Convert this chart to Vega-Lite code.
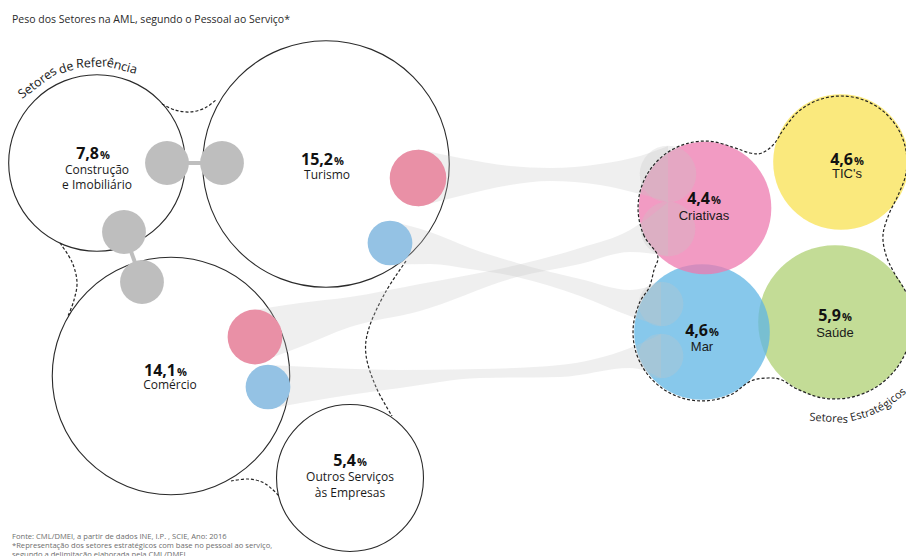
{
  "$schema": "https://vega.github.io/schema/vega-lite/v6.json",
  "width": 906,
  "height": 556,
  "autosize": {"type": "none"},
  "padding": 0,
  "background": "white",
  "config": {"view": {"stroke": null}},
  "datasets": {
    "sectors": [
      {"name": "Construção e Imobiliário", "group": "ref", "pct": 7.8, "x": 97, "y": 163},
      {"name": "Turismo", "group": "ref", "pct": 15.2, "x": 326, "y": 164},
      {"name": "Comércio", "group": "ref", "pct": 14.1, "x": 171, "y": 376},
      {"name": "Outros Serviços às Empresas", "group": "ref", "pct": 5.4, "x": 350, "y": 478},
      {"name": "Saúde", "group": "str", "pct": 5.9, "x": 835, "y": 322},
      {"name": "TIC's", "group": "str", "pct": 4.6, "x": 841, "y": 162},
      {"name": "Mar", "group": "str", "pct": 4.6, "x": 702, "y": 332},
      {"name": "Criativas", "group": "str", "pct": 4.4, "x": 705, "y": 208}
    ],
    "flows": [
      {"from": "Turismo", "to": "Criativas", "pct": 0.8, "x": 418, "y": 178, "tx": 668, "ty": 174},
      {"from": "Turismo", "to": "Mar", "pct": 0.5, "x": 390, "y": 243, "tx": 661, "ty": 304},
      {"from": "Comércio", "to": "Criativas", "pct": 0.75, "x": 255, "y": 337, "tx": 668, "ty": 229},
      {"from": "Comércio", "to": "Mar", "pct": 0.5, "x": 268, "y": 387, "tx": 661, "ty": 356}
    ],
    "gray": [
      {"pair": "a", "x": 167, "y": 163, "pct": 0.48},
      {"pair": "a", "x": 222, "y": 163, "pct": 0.48},
      {"pair": "b", "x": 124, "y": 232, "pct": 0.48},
      {"pair": "b", "x": 142, "y": 282, "pct": 0.48}
    ],
    "bands": [
      {"flow": "TC", "x": 418, "yTop": 149, "yBot": 207},
      {"flow": "TC", "x": 460, "yTop": 158, "yBot": 196},
      {"flow": "TC", "x": 510, "yTop": 166, "yBot": 185},
      {"flow": "TC", "x": 550, "yTop": 168, "yBot": 181},
      {"flow": "TC", "x": 600, "yTop": 164, "yBot": 185},
      {"flow": "TC", "x": 640, "yTop": 156, "yBot": 194},
      {"flow": "TC", "x": 668, "yTop": 146, "yBot": 202},
      {"flow": "TM", "x": 390, "yTop": 221, "yBot": 265},
      {"flow": "TM", "x": 430, "yTop": 232, "yBot": 264},
      {"flow": "TM", "x": 470, "yTop": 248, "yBot": 269},
      {"flow": "TM", "x": 517, "yTop": 263, "yBot": 277},
      {"flow": "TM", "x": 580, "yTop": 279, "yBot": 296},
      {"flow": "TM", "x": 630, "yTop": 290, "yBot": 316},
      {"flow": "TM", "x": 661, "yTop": 282, "yBot": 326},
      {"flow": "CC", "x": 255, "yTop": 310, "yBot": 364},
      {"flow": "CC", "x": 300, "yTop": 303, "yBot": 347},
      {"flow": "CC", "x": 350, "yTop": 297, "yBot": 327},
      {"flow": "CC", "x": 420, "yTop": 284, "yBot": 311},
      {"flow": "CC", "x": 517, "yTop": 265, "yBot": 277},
      {"flow": "CC", "x": 580, "yTop": 248, "yBot": 264},
      {"flow": "CC", "x": 630, "yTop": 230, "yBot": 252},
      {"flow": "CC", "x": 668, "yTop": 202, "yBot": 256},
      {"flow": "CM", "x": 268, "yTop": 365, "yBot": 409},
      {"flow": "CM", "x": 330, "yTop": 368, "yBot": 398},
      {"flow": "CM", "x": 400, "yTop": 370, "yBot": 388},
      {"flow": "CM", "x": 480, "yTop": 369, "yBot": 378},
      {"flow": "CM", "x": 560, "yTop": 365, "yBot": 377},
      {"flow": "CM", "x": 630, "yTop": 348, "yBot": 368},
      {"flow": "CM", "x": 661, "yTop": 334, "yBot": 378}
    ],
    "refHull": [
      {"seg": 1, "i": 1, "x": 162, "y": 104},
      {"seg": 1, "i": 2, "x": 175, "y": 110},
      {"seg": 1, "i": 3, "x": 190, "y": 112},
      {"seg": 1, "i": 4, "x": 205, "y": 108},
      {"seg": 1, "i": 5, "x": 217, "y": 99},
      {"seg": 2, "i": 1, "x": 60, "y": 243},
      {"seg": 2, "i": 2, "x": 72, "y": 262},
      {"seg": 2, "i": 3, "x": 77, "y": 282},
      {"seg": 2, "i": 4, "x": 74, "y": 300},
      {"seg": 2, "i": 5, "x": 68, "y": 316},
      {"seg": 3, "i": 1, "x": 406, "y": 261},
      {"seg": 3, "i": 2, "x": 385, "y": 293},
      {"seg": 3, "i": 3, "x": 369, "y": 328},
      {"seg": 3, "i": 4, "x": 366, "y": 355},
      {"seg": 3, "i": 5, "x": 376, "y": 387},
      {"seg": 3, "i": 6, "x": 392, "y": 416},
      {"seg": 4, "i": 1, "x": 231, "y": 481},
      {"seg": 4, "i": 2, "x": 248, "y": 479},
      {"seg": 4, "i": 3, "x": 262, "y": 482},
      {"seg": 4, "i": 4, "x": 272, "y": 489},
      {"seg": 4, "i": 5, "x": 279, "y": 496}
    ],
    "strHull": [
      {"i": 1, "x": 657.6, "y": 255.4},
      {"i": 2, "x": 644.3, "y": 236.3},
      {"i": 3, "x": 638.3, "y": 213.8},
      {"i": 4, "x": 640.3, "y": 190.7},
      {"i": 5, "x": 650.1, "y": 169.6},
      {"i": 6, "x": 666.6, "y": 153.1},
      {"i": 7, "x": 687.7, "y": 143.3},
      {"i": 8, "x": 710.8, "y": 141.3},
      {"i": 9, "x": 733.3, "y": 147.3},
      {"i": 10, "x": 750, "y": 153},
      {"i": 11, "x": 762, "y": 153},
      {"i": 12, "x": 774, "y": 144},
      {"i": 13, "x": 783.8, "y": 129},
      {"i": 14, "x": 798.6, "y": 111.4},
      {"i": 15, "x": 818.4, "y": 100},
      {"i": 16, "x": 841, "y": 96},
      {"i": 17, "x": 863.6, "y": 100},
      {"i": 18, "x": 883.4, "y": 111.4},
      {"i": 19, "x": 898.2, "y": 129},
      {"i": 20, "x": 906, "y": 150.5},
      {"i": 21, "x": 906, "y": 173.5},
      {"i": 22, "x": 898.2, "y": 195},
      {"i": 23, "x": 889, "y": 214},
      {"i": 24, "x": 883, "y": 235},
      {"i": 25, "x": 886, "y": 255},
      {"i": 26, "x": 894, "y": 272.5},
      {"i": 27, "x": 907.4, "y": 295.7},
      {"i": 28, "x": 912, "y": 322},
      {"i": 29, "x": 907.4, "y": 348.3},
      {"i": 30, "x": 894, "y": 371.5},
      {"i": 31, "x": 873.5, "y": 388.7},
      {"i": 32, "x": 848.4, "y": 397.8},
      {"i": 33, "x": 821.6, "y": 397.8},
      {"i": 34, "x": 796.5, "y": 388.7},
      {"i": 35, "x": 782, "y": 380},
      {"i": 36, "x": 768, "y": 378},
      {"i": 37, "x": 750.8, "y": 381},
      {"i": 38, "x": 731.2, "y": 394.5},
      {"i": 39, "x": 708, "y": 400.7},
      {"i": 40, "x": 684.1, "y": 398.6},
      {"i": 41, "x": 662.4, "y": 388.5},
      {"i": 42, "x": 645.5, "y": 371.6},
      {"i": 43, "x": 635.3, "y": 349.9},
      {"i": 44, "x": 633.3, "y": 326},
      {"i": 45, "x": 639.5, "y": 302.8},
      {"i": 46, "x": 649.1, "y": 287.6},
      {"i": 47, "x": 654, "y": 270}
    ],
    "labels": [
      {"kind": "num", "side": "ref", "text": "7,8", "x": 93, "y": 153},
      {"kind": "num", "side": "ref", "text": "15,2", "x": 327, "y": 159},
      {"kind": "num", "side": "ref", "text": "14,1", "x": 170, "y": 370},
      {"kind": "num", "side": "ref", "text": "5,4", "x": 350, "y": 460},
      {"kind": "num", "side": "str", "text": "4,4", "x": 704, "y": 198},
      {"kind": "num", "side": "str", "text": "4,6", "x": 847, "y": 159},
      {"kind": "num", "side": "str", "text": "4,6", "x": 702, "y": 330},
      {"kind": "num", "side": "str", "text": "5,9", "x": 835, "y": 315},
      {"kind": "name", "side": "ref", "text": "Construção", "x": 97, "y": 170},
      {"kind": "name", "side": "ref", "text": "e Imobiliário", "x": 97, "y": 185},
      {"kind": "name", "side": "ref", "text": "Turismo", "x": 327, "y": 175},
      {"kind": "name", "side": "ref", "text": "Comércio", "x": 170, "y": 385},
      {"kind": "name", "side": "ref", "text": "Outros Serviços", "x": 350, "y": 477},
      {"kind": "name", "side": "ref", "text": "às Empresas", "x": 350, "y": 493},
      {"kind": "name", "side": "str", "text": "Criativas", "x": 704, "y": 216},
      {"kind": "name", "side": "str", "text": "TIC's", "x": 847, "y": 174},
      {"kind": "name", "side": "str", "text": "Mar", "x": 702, "y": 347},
      {"kind": "name", "side": "str", "text": "Saúde", "x": 835, "y": 333}
    ],
    "arcs": [
      {"group": "ref", "text": "Setores", "x": 37.4, "y": 82.7, "angle": -36.5},
      {"group": "ref", "text": "de", "x": 66.1, "y": 67.9, "angle": -18},
      {"group": "ref", "text": "Refer", "x": 91.6, "y": 63.1, "angle": -3.1},
      {"group": "ref", "text": "ência", "x": 122, "y": 66.2, "angle": 14.5},
      {"group": "str", "text": "Setores", "x": 828.7, "y": 418.8, "angle": 3.7},
      {"group": "str", "text": "Estr", "x": 860.1, "y": 415.7, "angle": -15},
      {"group": "str", "text": "até", "x": 876.6, "y": 409.6, "angle": -25.4},
      {"group": "str", "text": "gicos", "x": 894.7, "y": 398.4, "angle": -38}
    ],
    "notes": [
      {"kind": "title", "text": "Peso dos Setores na AML, segundo o Pessoal ao Serviço*", "x": 12, "y": 20},
      {"kind": "foot", "text": "Fonte: CML/DMEI, a partir de dados INE, I.P. , SCIE,  Ano: 2016", "x": 12, "y": 537},
      {"kind": "foot", "text": "*Representação dos setores estratégicos com base no pessoal ao serviço,", "x": 12, "y": 546},
      {"kind": "foot", "text": "segundo a delimitação elaborada pela CML/DMEI", "x": 12, "y": 555}
    ]
  },
  "encoding": {
    "x": {"field": "x", "type": "quantitative", "scale": {"domain": [0, 906], "nice": false, "zero": false}, "axis": null},
    "y": {"field": "y", "type": "quantitative", "scale": {"domain": [0, 556], "nice": false, "zero": false, "reverse": true}, "axis": null}
  },
  "resolve": {"scale": {"fill": "independent"}},
  "layer": [
    {
      "data": {"name": "sectors"},
      "transform": [{"filter": "datum.group === 'ref'"}],
      "mark": {"type": "circle", "fill": "white", "stroke": "#2a2a2a", "strokeWidth": 1.1, "opacity": 1},
      "encoding": {
        "size": {"field": "pct", "type": "quantitative", "scale": {"type": "linear", "domain": [0, 10], "range": [0, 40000]}, "legend": null}
      }
    },
    {
      "data": {"name": "refHull"},
      "mark": {"type": "line", "interpolate": "cardinal", "strokeDash": [3, 2], "strokeWidth": 1.2, "color": "#222"},
      "encoding": {
        "detail": {"field": "seg", "type": "nominal"},
        "order": {"field": "i", "type": "quantitative"}
      }
    },
    {
      "data": {"name": "gray"},
      "mark": {"type": "line", "color": "#bebebe", "strokeWidth": 4},
      "encoding": {"detail": {"field": "pair", "type": "nominal"}}
    },
    {
      "data": {"name": "gray"},
      "mark": {"type": "circle", "fill": "#bebebe", "opacity": 1},
      "encoding": {
        "size": {"field": "pct", "type": "quantitative", "scale": {"type": "linear", "domain": [0, 10], "range": [0, 40000]}, "legend": null}
      }
    },
    {
      "data": {"name": "sectors"},
      "transform": [{"filter": "datum.group === 'str'"}],
      "mark": {"type": "circle", "opacity": 0.75},
      "encoding": {
        "size": {"field": "pct", "type": "quantitative", "scale": {"type": "linear", "domain": [0, 10], "range": [0, 40000]}, "legend": null},
        "fill": {"field": "name", "type": "nominal", "scale": {"domain": ["Criativas", "TIC's", "Mar", "Saúde"], "range": ["#ee7aaf", "#f8e252", "#5fb6e4", "#afd073"]}, "legend": null}
      }
    },
    {
      "data": {"name": "bands"},
      "mark": {"type": "area", "interpolate": "monotone", "color": "#c4c4c4", "opacity": 0.28},
      "encoding": {
        "y": {"field": "yTop", "type": "quantitative", "scale": {"domain": [0, 556], "nice": false, "zero": false, "reverse": true}, "axis": null, "stack": null},
        "y2": {"field": "yBot"},
        "detail": {"field": "flow", "type": "nominal"}
      }
    },
    {
      "data": {"name": "flows"},
      "mark": {"type": "circle", "fill": "#c4c4c4", "opacity": 0.28},
      "encoding": {
        "x": {"field": "tx", "type": "quantitative", "scale": {"domain": [0, 906], "nice": false, "zero": false}, "axis": null},
        "y": {"field": "ty", "type": "quantitative", "scale": {"domain": [0, 556], "nice": false, "zero": false, "reverse": true}, "axis": null},
        "size": {"field": "pct", "type": "quantitative", "scale": {"type": "linear", "domain": [0, 10], "range": [0, 40000]}, "legend": null}
      }
    },
    {
      "data": {"name": "flows"},
      "mark": {"type": "circle", "opacity": 1},
      "encoding": {
        "size": {"field": "pct", "type": "quantitative", "scale": {"type": "linear", "domain": [0, 10], "range": [0, 40000]}, "legend": null},
        "fill": {"field": "to", "type": "nominal", "scale": {"domain": ["Criativas", "Mar"], "range": ["#e990a6", "#94c2e4"]}, "legend": null}
      }
    },
    {
      "data": {"name": "strHull"},
      "mark": {"type": "line", "interpolate": "cardinal-closed", "strokeDash": [3, 2], "strokeWidth": 1.2, "color": "#222"},
      "encoding": {"order": {"field": "i", "type": "quantitative"}}
    },
    {
      "data": {"name": "labels"},
      "transform": [{"filter": "datum.kind === 'num'"}],
      "mark": {"type": "text", "font": "Open Sans", "fontWeight": "bold", "fontSize": 16, "align": "right", "baseline": "alphabetic", "dx": 6, "dy": 6, "color": "#111"},
      "encoding": {"text": {"field": "text", "type": "nominal"}}
    },
    {
      "data": {"name": "labels"},
      "transform": [{"filter": "datum.kind === 'num'"}],
      "mark": {"type": "text", "font": "Open Sans", "fontWeight": "bold", "fontSize": 11, "align": "left", "baseline": "alphabetic", "dx": 7, "dy": 6, "color": "#111"},
      "encoding": {"text": {"value": "%"}}
    },
    {
      "data": {"name": "labels"},
      "transform": [{"filter": "datum.kind === 'name' && datum.side === 'ref'"}],
      "mark": {"type": "text", "font": "Open Sans", "fontSize": 12, "align": "center", "baseline": "middle", "color": "#1a1a1a"},
      "encoding": {"text": {"field": "text", "type": "nominal"}}
    },
    {
      "data": {"name": "labels"},
      "transform": [{"filter": "datum.kind === 'name' && datum.side === 'str'"}],
      "mark": {"type": "text", "font": "Liberation Sans", "fontSize": 13, "align": "center", "baseline": "middle", "color": "#1a1a1a"},
      "encoding": {"text": {"field": "text", "type": "nominal"}}
    },
    {
      "data": {"name": "arcs"},
      "transform": [{"filter": "datum.group === 'ref'"}],
      "mark": {"type": "text", "font": "Open Sans", "fontSize": 12.5, "align": "center", "baseline": "middle", "color": "#1a1a1a"},
      "encoding": {
        "text": {"field": "text", "type": "nominal"},
        "angle": {"field": "angle", "type": "quantitative", "scale": null}
      }
    },
    {
      "data": {"name": "arcs"},
      "transform": [{"filter": "datum.group === 'str'"}],
      "mark": {"type": "text", "font": "Open Sans", "fontSize": 11, "align": "center", "baseline": "middle", "color": "#1a1a1a"},
      "encoding": {
        "text": {"field": "text", "type": "nominal"},
        "angle": {"field": "angle", "type": "quantitative", "scale": null}
      }
    },
    {
      "data": {"name": "notes"},
      "transform": [{"filter": "datum.kind === 'title'"}],
      "mark": {"type": "text", "font": "Open Sans", "fontSize": 10.5, "align": "left", "baseline": "middle", "color": "#2a2a2a"},
      "encoding": {"text": {"field": "text", "type": "nominal"}}
    },
    {
      "data": {"name": "notes"},
      "transform": [{"filter": "datum.kind === 'foot'"}],
      "mark": {"type": "text", "font": "Open Sans", "fontSize": 7.6, "align": "left", "baseline": "middle", "color": "#6e6e6e"},
      "encoding": {"text": {"field": "text", "type": "nominal"}}
    }
  ]
}
